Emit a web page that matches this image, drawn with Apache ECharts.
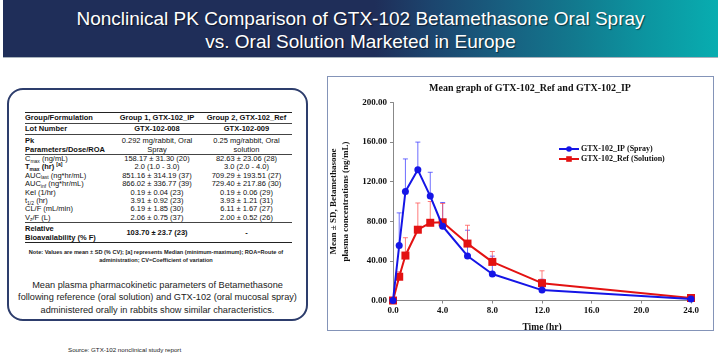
<!DOCTYPE html>
<html><head><meta charset="utf-8">
<script src="https://cdn.jsdelivr.net/npm/echarts@6/dist/echarts.min.js"></script>
<style>
body{margin:0;width:718px;height:356px;position:relative;background:#fff;overflow:hidden;font-family:"Liberation Sans",Arial,sans-serif;color:#111;}
#banner{position:absolute;left:3px;top:0;width:715px;height:57px;background:linear-gradient(to right,#1f2e59 0%,#1f2e59 52%,#1c456e 60%,#185f80 70%,#12798e 80%,#0c95a0 90%,#08adb0 100%);border-bottom:1px solid #a9b3bd;}
#banner div{color:#fff;text-align:center;font-size:19px;line-height:23px;padding-top:7px;text-shadow:1px 1px 1px rgba(0,0,0,.55);}
#lbox{position:absolute;left:7px;top:88px;width:297px;height:229px;border:2px solid #2d3d6c;border-radius:16px;}
table{position:absolute;left:25px;top:112px;width:267px;border-collapse:collapse;table-layout:fixed;font-size:7.5px;}
td{padding:0;white-space:nowrap;line-height:8.4px;height:8.4px;overflow:visible;}
td.c{text-align:center;}
tr.b td{font-weight:bold;}
tr.h td{height:10px;line-height:10px;}
tr.t td{height:19px;line-height:9px;}
.tt{border-top:1.5px solid #222;}
.bb td{border-bottom:1px solid #444;}
.bt td{border-bottom:1.5px solid #222;}
sub,sup{font-size:5px;line-height:0;vertical-align:baseline;position:relative;}
sub{top:1.5px;} sup{top:-3px;}
#note{position:absolute;left:12px;top:248px;width:288px;text-align:center;font-size:5.6px;line-height:8px;font-weight:bold;color:#222;}
#para{position:absolute;left:7px;top:279px;width:301px;text-align:center;font-size:9.2px;line-height:12.3px;color:#222;}
#src{position:absolute;left:68px;top:346px;font-size:6.2px;color:#222;}
#rbox{position:absolute;left:327px;top:76px;width:385px;height:253px;border:1.5px solid #8494b8;}
#chart{position:absolute;left:328px;top:77px;width:386px;height:253px;}
</style></head>
<body>
<div id="banner"><div>Nonclinical PK Comparison of GTX-102 Betamethasone Oral Spray<br>vs. Oral Solution Marketed in Europe</div></div>
<div id="lbox"></div>
<table>
<colgroup><col style="width:88px"><col style="width:88px"><col style="width:91px"></colgroup>
<tr class="b bb h"><td class="tt">Group/Formulation</td><td class="c tt">Group 1, GTX-102_IP</td><td class="c tt">Group 2, GTX-102_Ref</td></tr>
<tr class="b bb h"><td>Lot Number</td><td class="c">GTX-102-008</td><td class="c">GTX-102-009</td></tr>
<tr class="bb t"><td style="font-weight:bold">Pk<br>Parameters/Dose/ROA</td><td class="c">0.292 mg/rabbit, Oral<br>Spray</td><td class="c">0.25 mg/rabbit, Oral<br>solution</td></tr>
<tr><td>C<sub>max</sub> (ng/mL)</td><td class="c">158.17 ± 31.30 (20)</td><td class="c">82.63 ± 23.06 (28)</td></tr>
<tr><td><b>T<sub>max</sub> (hr) <sup>[a]</sup></b></td><td class="c">2.0 (1.0 - 3.0)</td><td class="c">3.0 (2.0 - 4.0)</td></tr>
<tr><td>AUC<sub>last</sub> (ng*hr/mL)</td><td class="c">851.16 ± 314.19 (37)</td><td class="c">709.29 ± 193.51 (27)</td></tr>
<tr><td>AUC<sub>inf</sub> (ng*hr/mL)</td><td class="c">866.02 ± 336.77 (39)</td><td class="c">729.40 ± 217.86 (30)</td></tr>
<tr><td>Kel (1/hr)</td><td class="c">0.19 ± 0.04 (23)</td><td class="c">0.19 ± 0.06 (29)</td></tr>
<tr><td>t<sub>1/2</sub> (hr)</td><td class="c">3.91 ± 0.92 (23)</td><td class="c">3.93 ± 1.21 (31)</td></tr>
<tr><td>CL/F (mL/min)</td><td class="c">6.19 ± 1.85 (30)</td><td class="c">6.11 ± 1.67 (27)</td></tr>
<tr class="bb"><td>V<sub>z</sub>/F (L)</td><td class="c">2.06 ± 0.75 (37)</td><td class="c">2.00 ± 0.52 (26)</td></tr>
<tr class="bt t"><td style="font-weight:bold">Relative<br>Bioavailability (% F)</td><td class="c"><b>103.70 ± 23.7 (23)</b></td><td class="c"><b>-</b></td></tr>
</table>
<div id="note">Note: Values are mean ± SD (% CV); [a] represents Median (minimum-maximum); ROA=Route of<br>administration; CV=Coefficient of variation</div>
<div id="para">Mean plasma pharmacokinetic parameters of Betamethasone<br>following reference (oral solution) and GTX-102 (oral mucosal spray)<br>administered orally in rabbits show similar characteristics.</div>
<div id="src">Source: GTX-102 nonclinical study report</div>
<div id="rbox"></div>
<div id="chart"></div>
<script>
// Data
var times = [0, 0.5, 1, 2, 3, 4, 6, 8, 12, 24];
var ipMean = [0, 55.5, 110, 132, 105.5, 75, 45, 26.8, 10.5, 1.5];
var ipSD   = [0, 33, 33, 28, 24, 24, 26, 18, 11, 2];
var refMean = [0, 24, 45.4, 71.5, 78.5, 79, 57.5, 39, 17.5, 2.5];
var refSD   = [0, 5, 18, 27, 21.5, 19, 18.5, 10.5, 12.5, 3];
var seriesNames = ['GTX-102_IP (Spray)', 'GTX-102_Ref (Solution)'];
var xTicks = [0, 4, 8, 12, 16, 20, 24];
var yTicks = [0, 40, 80, 120, 160, 200];

var serif = '"Liberation Serif","Times New Roman",serif';
var blue = '#1515e6', red = '#e31212';
function pts(m){ return times.map(function(t,i){ return [t, m[i]]; }); }
function errs(m, s){ return times.map(function(t,i){ return [t, m[i], m[i] + s[i]]; }); }
function errRender(color){
  return function(params, api){
    var x = api.value(0), m = api.value(1), u = api.value(2);
    var p0 = api.coord([x, m]), p1 = api.coord([x, u]);
    return {type:'group', children:[
      {type:'line', shape:{x1:p0[0], y1:p0[1], x2:p1[0], y2:p1[1]}, style:{stroke:color, lineWidth:1}},
      {type:'line', shape:{x1:p1[0]-2.5, y1:p1[1], x2:p1[0]+2.5, y2:p1[1]}, style:{stroke:color, lineWidth:1}}
    ]};
  };
}
var chart = echarts.init(document.getElementById('chart'), null, {renderer:'canvas'});
chart.setOption({
  animation:false,
  graphic:[{type:'text', x:202, y:11, style:{text:'Mean graph of GTX-102_Ref and GTX-102_IP', font:'bold 10px ' + serif, fill:'#111', align:'center', verticalAlign:'middle'}}],
  grid:{left:65, right:23, top:25.5, bottom:29.5, containLabel:false, outerBoundsMode:'none'},
  legend:{data:seriesNames, orient:'vertical', left:225, top:63, itemGap:2, itemWidth:20, itemHeight:7,
    textStyle:{fontFamily:serif, fontWeight:'bold', fontSize:8, color:'#111', padding:[0,0,0,-3]}},
  xAxis:{type:'value', min:xTicks[0], max:xTicks[xTicks.length-1], interval:4,
    name:'Time (hr)', nameLocation:'middle', nameGap:22,
    nameTextStyle:{fontFamily:serif, fontWeight:'bold', fontSize:9.5, color:'#111'},
    axisLine:{lineStyle:{color:'#888', width:1}}, axisTick:{show:true, length:3, lineStyle:{color:'#888'}},
    axisLabel:{fontFamily:serif, fontWeight:'bold', fontSize:9, color:'#111', margin:6, formatter:function(v){return v.toFixed(1);}},
    splitLine:{show:false}},
  yAxis:{type:'value', min:yTicks[0], max:yTicks[yTicks.length-1], interval:40,
    name:'Mean ± SD, Betamethasone\nplasma concentrations (ng/mL)', nameLocation:'middle', nameGap:26, nameRotate:90,
    nameTextStyle:{fontFamily:serif, fontWeight:'bold', fontSize:9, color:'#111', lineHeight:12},
    axisLine:{show:true, lineStyle:{color:'#888', width:1}}, axisTick:{show:true, length:3, lineStyle:{color:'#888'}},
    axisLabel:{fontFamily:serif, fontWeight:'bold', fontSize:9, color:'#111', margin:6, formatter:function(v){return v.toFixed(2);}},
    splitLine:{show:false}},
  series:[
    {type:'custom', name:'ipErr', renderItem:errRender('rgba(60,60,255,0.75)'), data:errs(ipMean, ipSD), z:1, silent:true},
    {type:'custom', name:'refErr', renderItem:errRender('rgba(255,80,80,0.75)'), data:errs(refMean, refSD), z:1, silent:true},
    {type:'line', name:seriesNames[1], data:pts(refMean), symbol:'rect', symbolSize:8, color:red,
      lineStyle:{width:2, color:red}, itemStyle:{color:red}, z:3},
    {type:'line', name:seriesNames[0], data:pts(ipMean), symbol:'circle', symbolSize:7, color:blue,
      lineStyle:{width:2, color:blue}, itemStyle:{color:blue}, z:4}
  ]
});
</script>
</body></html>
